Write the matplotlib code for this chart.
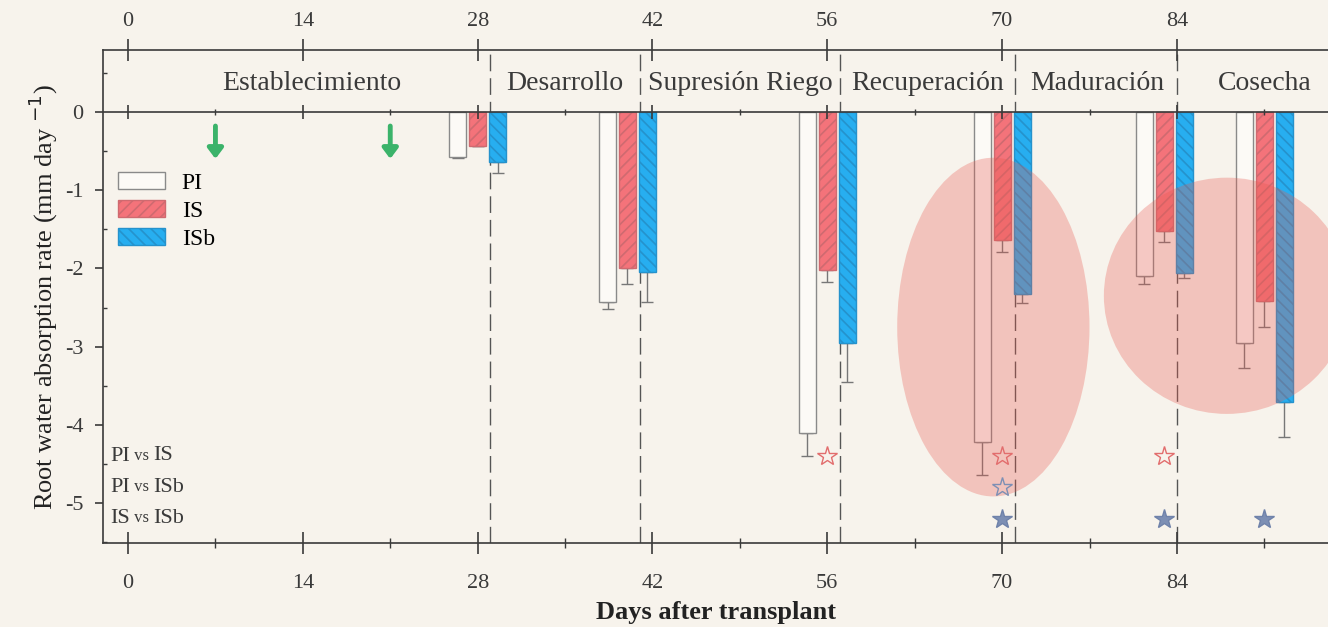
import matplotlib
matplotlib.use("Agg")
import matplotlib.pyplot as plt
from matplotlib.patches import Ellipse
from matplotlib.ticker import MultipleLocator

plt.rcParams['font.family'] = ['Liberation Serif', 'DejaVu Serif']
plt.rcParams['axes.unicode_minus'] = False
plt.rcParams['hatch.linewidth'] = 1.2

# sampling days (centre of each group of bars)
days = [28, 40, 56, 70, 83, 91]

# mean root water absorption rate (mm/day) and one-sided error
pi_mean = [-0.57, -2.43, -4.10, -4.22, -2.10, -2.95]
pi_err = [0.02, 0.09, 0.30, 0.42, 0.10, 0.32]
is_mean = [-0.43, -2.00, -2.02, -1.64, -1.52, -2.42]
is_err = [0.00, 0.20, 0.15, 0.15, 0.14, 0.33]
isb_mean = [-0.64, -2.05, -2.95, -2.33, -2.06, -3.71]
isb_err = [0.14, 0.38, 0.50, 0.11, 0.06, 0.44]

# crop phases: boundaries and labels
phase_edges = [29, 41, 57, 71, 84]
phase_names = ['Establecimiento', 'Desarrollo', 'Supresión Riego',
               'Recuperación', 'Maduración', 'Cosecha']
phase_label_x = [14.7, 35.0, 49.0, 64.0, 77.6, 91.0]

# irrigation events
irrigation_days = [7, 21]

# pairwise comparisons and the days where they differ
comp_a = ['PI', 'PI', 'IS']
comp_b = ['IS', 'ISb', 'ISb']
comp_y = [-4.4, -4.8, -5.2]
open_red_days = [56, 70, 83]
open_blue_days = [70]
filled_blue_days = [70, 83, 91]

bg = '#f7f3ec'
ink = '#3a3a3a'
off = 1.6
bw = 1.35

fig = plt.figure(figsize=(13.28, 6.27), dpi=100, facecolor=bg)
ax = fig.add_axes([0.0776, 0.134, 0.9224, 0.786], facecolor=bg)
ax.set_xlim(-2, 96.1)
ax.set_ylim(-5.51, 0.79)

x_pi = [d - off for d in days]
x_isb = [d + off for d in days]

ax.bar(x_pi, pi_mean, width=bw, color='#fcfaf6', edgecolor='#8a8a8a',
       linewidth=1.0, label='PI', zorder=3)
ax.bar(days, is_mean, width=bw, color='#f4737a', edgecolor='#cf6a70',
       hatch='///', linewidth=1.0, label='IS', zorder=3)
ax.bar(x_isb, isb_mean, width=bw, color='#27aef0', edgecolor='#2592cc',
       hatch='\\\\\\', linewidth=1.0, label='ISb', zorder=3)

err_kw = dict(fmt='none', ecolor='#777777', elinewidth=1.0, capsize=4,
              capthick=1.0, zorder=2)
ax.errorbar(x_pi, pi_mean, yerr=[pi_err, [0] * len(days)], **err_kw)
ax.errorbar(days, is_mean, yerr=[is_err, [0] * len(days)], **err_kw)
ax.errorbar(x_isb, isb_mean, yerr=[isb_err, [0] * len(days)], **err_kw)

# zero line with its own day ticks
ax.axhline(0, color=ink, lw=1.2, zorder=4)
ax.vlines(range(0, 85, 14), -0.09, 0.09, color=ink, lw=1.2, zorder=4)
ax.vlines(range(7, 92, 14), -0.04, 0.04, color=ink, lw=1.0, zorder=4)

# phase boundaries
for xe in phase_edges:
    ax.axvline(xe, color='#555555', lw=1.0, dashes=(12, 5), zorder=1)
for name, xl in zip(phase_names, phase_label_x):
    ax.text(xl, 0.36, name, ha='center', va='center', fontsize=20, color=ink)

# irrigation arrows
for d in irrigation_days:
    ax.annotate('', xy=(d, -0.6), xytext=(d, -0.18),
                arrowprops=dict(arrowstyle='-|>,head_width=0.45,head_length=0.6',
                                color='#3bb36a', lw=3.5, shrinkA=0, shrinkB=0))

# highlighted regions
ax.add_patch(Ellipse((69.3, -2.75), 15.4, 4.33, facecolor='#e8574d',
                     edgecolor='none', alpha=0.3, zorder=5))
ax.add_patch(Ellipse((88.0, -2.35), 19.7, 3.02, facecolor='#e8574d',
                     edgecolor='none', alpha=0.3, zorder=5))

# comparison rows: "A vs B" with a smaller "vs"
for a, b, y in zip(comp_a, comp_b, comp_y):
    t1 = ax.text(-1.45, y, a, ha='left', va='center', fontsize=16, color=ink)
    t2 = ax.annotate(' vs ', xy=(1, 0.1), xycoords=t1, va='bottom', ha='left',
                     fontsize=12, color=ink)
    ax.annotate(b, xy=(1, -0.1), xycoords=t2, va='bottom', ha='left',
                fontsize=16, color=ink)

star = dict(marker='*', markersize=15, linestyle='none', zorder=6)
ax.plot(open_red_days, [comp_y[0]] * len(open_red_days), markerfacecolor='none',
        markeredgecolor='#e26d6d', markeredgewidth=1.0, **star)
ax.plot(open_blue_days, [comp_y[1]] * len(open_blue_days), markerfacecolor='none',
        markeredgecolor='#7d8fb4', markeredgewidth=1.0, **star)
ax.plot(filled_blue_days, [comp_y[2]] * len(filled_blue_days), color='#7d8fb4',
        markeredgecolor='#6f82aa', **star)

# axes styling
for s in ['left', 'bottom', 'top']:
    ax.spines[s].set_color(ink)
    ax.spines[s].set_linewidth(1.2)
ax.spines['right'].set_visible(False)

ax.set_xticks(range(0, 85, 14))
ax.set_xticks(range(7, 92, 14), minor=True)
ax.tick_params(axis='x', which='major', direction='inout', length=16, width=1.2,
               colors=ink, labelsize=16, pad=14)
ax.tick_params(axis='x', which='minor', direction='inout', length=7, width=1.0,
               colors=ink)
ax.set_yticks(range(-5, 1))
ax.yaxis.set_minor_locator(MultipleLocator(0.5))
ax.tick_params(axis='y', which='major', direction='out', length=6, width=1.2,
               colors=ink, labelsize=16, pad=8)
ax.tick_params(axis='y', which='minor', direction='in', length=3, width=1.0,
               colors=ink)

top = ax.twiny()
top.set_xlim(ax.get_xlim())
top.set_xticks(range(0, 85, 14))
top.tick_params(axis='x', direction='inout', length=16, width=1.2, colors=ink,
                labelsize=16, pad=6)
for s in top.spines.values():
    s.set_visible(False)

ax.set_xlabel('Days after transplant', fontsize=19, fontweight='bold',
              color='#222222', labelpad=6)
ax.set_ylabel('Root water absorption rate (mm day $^{-1}$)', fontsize=19,
              color='#222222', labelpad=4)

ax.legend(loc='upper left', bbox_to_anchor=(0.0122, 0.7525), frameon=False,
          fontsize=17, handlelength=2.0, handleheight=0.75, labelspacing=0.25,
          handletextpad=0.7, borderpad=0, borderaxespad=0)

fig.savefig('out.png', dpi=100, facecolor=bg)
